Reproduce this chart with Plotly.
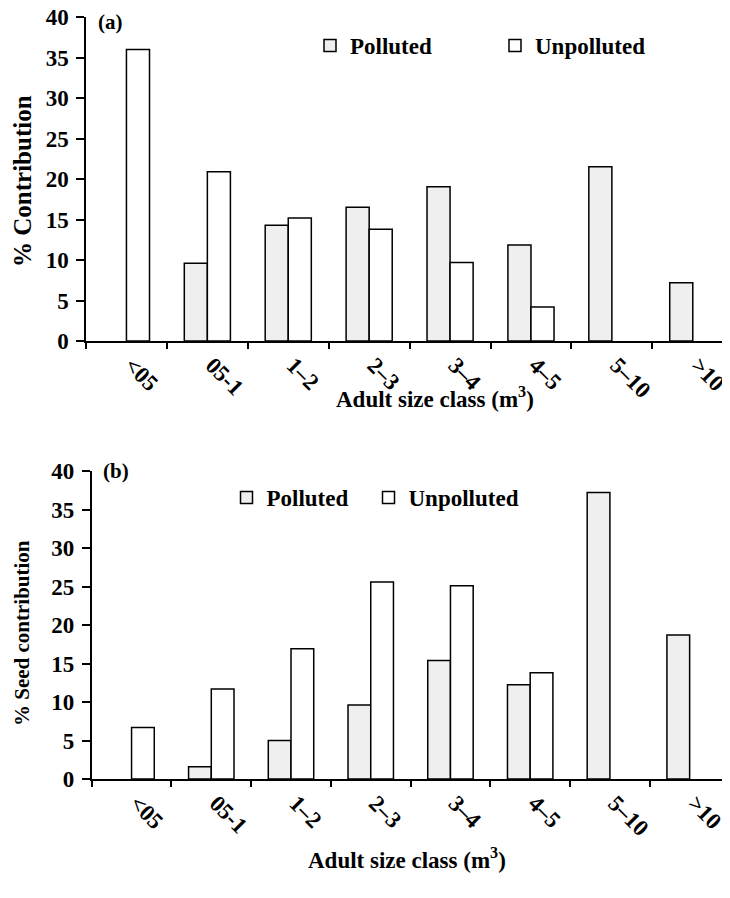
import plotly.graph_objects as go

categories = ["<05", "05-1", "1–2", "2–3", "3–4", "4–5", "5–10", ">10"]

a_polluted = [None, 9.6, 14.3, 16.5, 19.05, 11.85, 21.5, 7.2]
a_unpolluted = [36.0, 20.9, 15.2, 13.8, 9.7, 4.2, None, None]

b_polluted = [None, 1.6, 5.0, 9.6, 15.4, 12.25, 37.2, 18.7]
b_unpolluted = [6.7, 11.7, 16.9, 25.6, 25.1, 13.8, None, None]

y_ticks = [0, 5, 10, 15, 20, 25, 30, 35, 40]

FONT = "Liberation Serif"
PAGE_OFF = 8  # default body margin of the page
W, H = 730 - PAGE_OFF, 898 - PAGE_OFF

def px_x(x):
    return (x - PAGE_OFF) / W

def px_y(y):
    return 1 - (y - PAGE_OFF) / H

def bold(size):
    return dict(family=FONT, size=size, color="black", weight="bold")

fig = go.Figure()

line = dict(color="black", width=1.5)
fig.add_trace(go.Bar(x=categories, y=a_polluted, name="Polluted",
                     marker=dict(color="#efefef", line=line),
                     xaxis="x", yaxis="y", legend="legend"))
fig.add_trace(go.Bar(x=categories, y=a_unpolluted, name="Unpolluted",
                     marker=dict(color="white", line=line),
                     xaxis="x", yaxis="y", legend="legend2"))
fig.add_trace(go.Bar(x=categories, y=b_polluted, name="Polluted",
                     marker=dict(color="#efefef", line=line),
                     xaxis="x2", yaxis="y2", legend="legend3"))
fig.add_trace(go.Bar(x=categories, y=b_unpolluted, name="Unpolluted",
                     marker=dict(color="white", line=line),
                     xaxis="x2", yaxis="y2", legend="legend4"))

xcommon = dict(type="category", showline=True, linecolor="black", linewidth=1.5,
               ticks="outside", tickson="boundaries", ticklen=6, tickwidth=1.5,
               tickcolor="black", tickangle=45, tickfont=bold(23),
               showgrid=False, zeroline=False, fixedrange=True,
               ticklabelstandoff=0, ticklabelshift=5, automargin=False,
               ticklabeloverflow="allow")
ycommon = dict(range=[0, 40], tickvals=y_ticks, showline=True, linecolor="black",
               linewidth=1.5, ticks="outside", ticklen=8, tickwidth=1.5,
               tickcolor="black", tickfont=bold(23), showgrid=False,
               zeroline=False, fixedrange=True, automargin=False,
               ticklabelstandoff=3, ticklabeloverflow="allow")

def leg(x, y):
    return dict(orientation="h", x=px_x(x), y=px_y(y), xanchor="left", yanchor="top",
                font=bold(23), bgcolor="rgba(0,0,0,0)")

fig.update_layout(
    width=W, height=H,
    margin=dict(l=0, r=0, t=0, b=0, autoexpand=False),
    paper_bgcolor="white", plot_bgcolor="white",
    barmode="group", bargap=0.43, bargroupgap=0,
    xaxis=dict(domain=[px_x(86), 1.0], range=[-0.5, 7.46], anchor="y", **xcommon),
    yaxis=dict(domain=[px_y(341), px_y(17)], anchor="x", **ycommon),
    xaxis2=dict(domain=[px_x(91.7), px_x(729.5)], range=[-0.5, 7.5], anchor="y2", **xcommon),
    yaxis2=dict(domain=[px_y(779), px_y(471)], anchor="x2", **ycommon),
    legend=leg(310, 24),
    legend2=leg(495, 24),
    legend3=leg(226.5, 476),
    legend4=leg(368.5, 476),
    showlegend=True,
)

anns = [
    dict(text="(a)", x=px_x(110), y=1.0, yanchor="top", size=21),
    dict(text="(b)", x=px_x(116), y=px_y(471), yanchor="middle", size=21),
    dict(text="Adult size class (m<sup>3</sup>)", x=px_x(435), y=px_y(397),
         yanchor="middle", size=23),
    dict(text="Adult size class (m<sup>3</sup>)", x=px_x(407), y=px_y(858),
         yanchor="middle", size=23),
    dict(text="% Contribution", x=px_x(22), y=px_y(181), textangle=-90,
         yanchor="middle", size=25),
    dict(text="% Seed contribution", x=px_x(22), y=px_y(633), textangle=-90,
         yanchor="middle", size=21),
]
for a in anns:
    size = a.pop("size")
    fig.add_annotation(xref="paper", yref="paper", showarrow=False, font=bold(size),
                       xanchor="center", **a)

fig.write_html("out.html")
